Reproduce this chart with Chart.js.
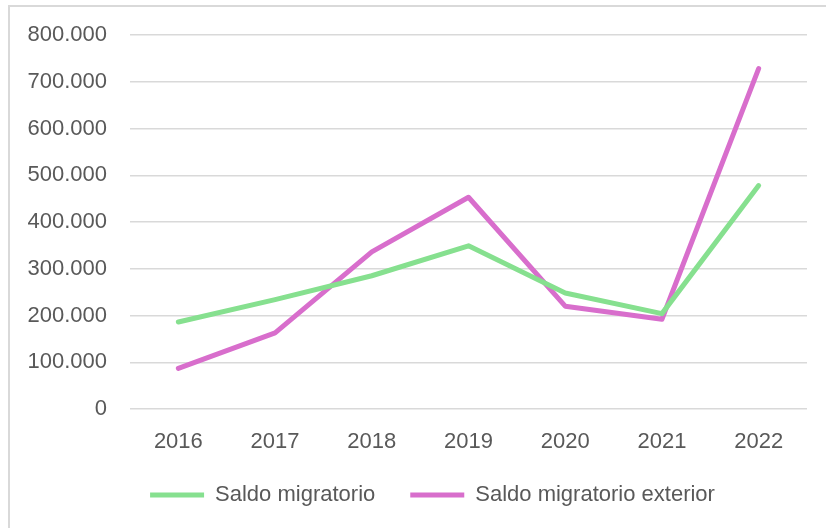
<!DOCTYPE html>
<html><head><meta charset="utf-8">
<script src="https://cdn.jsdelivr.net/npm/chart.js@4.4.1/dist/chart.umd.min.js"></script>
<style>
html,body{margin:0;padding:0;background:#fff;overflow:hidden;width:826px;height:528px;}
#frame{position:absolute;left:8px;top:5px;width:835px;height:532px;border:2px solid #d9d9d9;background:#fff;}
canvas{display:block;}
</style></head><body>
<div id="frame"><canvas id="c" width="835" height="532" style="width:835px;height:532px"></canvas></div>
<script>
const categories = ['2016', '2017', '2018', '2019', '2020', '2021', '2022'];
const saldoMigratorio = [186000, 234000, 285000, 349000, 248000, 204000, 478000];
const saldoMigratorioExterior = [87000, 163000, 336000, 453000, 220000, 192000, 728000];
const yTickLabels = ['0', '100.000', '200.000', '300.000', '400.000', '500.000', '600.000', '700.000', '800.000'];
const seriesNames = ['Saldo migratorio', 'Saldo migratorio exterior'];
const seriesColors = ['#86E08F', '#D86ECC'];

const FONT = { family: "'Liberation Sans', Arial, sans-serif", size: 22 };
const TEXT = '#595959';

new Chart(document.getElementById('c'), {
  type: 'line',
  data: {
    labels: categories,
    datasets: [
      { label: seriesNames[0], data: saldoMigratorio, borderColor: seriesColors[0], backgroundColor: seriesColors[0],
        borderWidth: 5, pointRadius: 0, tension: 0, borderCapStyle: 'round', borderJoinStyle: 'round' },
      { label: seriesNames[1], data: saldoMigratorioExterior, borderColor: seriesColors[1], backgroundColor: seriesColors[1],
        borderWidth: 5, pointRadius: 0, tension: 0, borderCapStyle: 'round', borderJoinStyle: 'round' }
    ]
  },
  options: {
    responsive: false,
    animation: false,
    devicePixelRatio: 1,
    layout: { padding: { left: 10, right: 0, top: 28, bottom: 23 } },
    plugins: {
      tooltip: { enabled: false },
      legend: {
        position: 'bottom',
        labels: {
          usePointStyle: true,
          pointStyle: 'line',
          pointStyleWidth: 54,
          padding: 35,
          color: TEXT,
          font: FONT
        }
      }
    },
    scales: {
      x: {
        offset: true,
        grid: { display: false, drawTicks: false, offset: true },
        border: { display: false },
        ticks: { color: TEXT, font: FONT, padding: 20, maxRotation: 0 },
        afterFit: (s) => { s.height = 40; }
      },
      y: {
        min: 0, max: 800000,
        grid: { color: '#d9d9d9', lineWidth: 1.5, drawTicks: false },
        border: { display: false },
        ticks: { stepSize: 100000, color: TEXT, font: FONT, padding: 23,
          callback: (v, i) => yTickLabels[i] },
        afterFit: (s) => { s.width = 110; s.paddingTop = 0; s.paddingBottom = 0; }
      },
      yRight: {
        position: 'right',
        display: true,
        grid: { display: false, drawTicks: false },
        border: { display: false },
        ticks: { display: false },
        afterFit: (s) => { s.width = 38; s.paddingTop = 0; s.paddingBottom = 0; }
      }
    }
  }
});
</script>
</body></html>
